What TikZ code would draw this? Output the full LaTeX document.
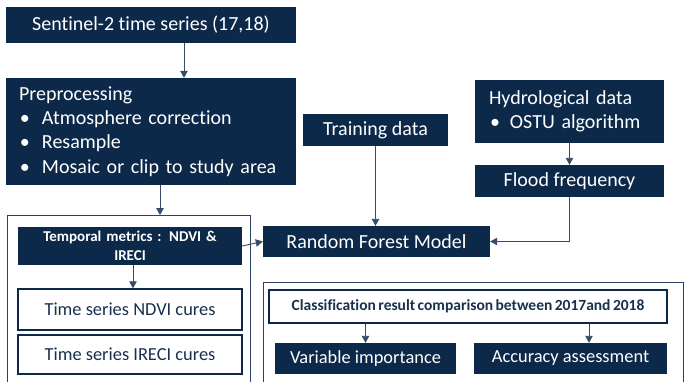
\documentclass[tikz,border=0pt]{standalone}
\usepackage{fontspec}
\setmainfont{Carlito}[Ligatures=CommonOff,BoldFeatures={WordSpace=0.7}]
\usetikzlibrary{arrows.meta}
\definecolor{navy}{RGB}{13,41,74}
\definecolor{navytext}{RGB}{25,48,78}
\definecolor{linkc}{RGB}{52,76,106}
\definecolor{framec}{RGB}{45,66,96}
\newcommand\bigtxt{\fontsize{20}{24.4}\selectfont}
\newcommand\midtxt{\fontsize{18.4}{22.4}\selectfont}
\newcommand\smalltxt{\fontsize{15}{18.5}\selectfont\bfseries}
\newcommand\clstxt{\fontsize{15.5}{19}\selectfont\bfseries}
\newcommand\bul[1]{\makebox[#1][l]{\hspace{1pt}\textbullet}}
\tikzset{
  darkbox/.style={fill=navy,draw=none,text=white,inner sep=0pt},
  lightbox/.style={fill=white,draw=navy,line width=1.4pt,text=navytext,inner sep=0pt},
  frame/.style={draw=framec,line width=1.2pt,fill=none,inner sep=0pt},
  link/.style={draw=linkc,line width=0.9pt,-{Triangle[length=7pt,width=7.5pt]}},
}
\begin{document}
\begin{tikzpicture}[x=1pt,y=-1pt]
\useasboundingbox (0,0) rectangle (684,382);
\fill[white] (0,0) rectangle (684,382);
\clip (0,0) rectangle (684,382);

% enclosing frames (open towards the bottom edge)
\node[frame,anchor=north west,minimum width=243pt,minimum height=190pt] (lframe) at (7,215) {};
\node[frame,anchor=north west,minimum width=420pt,minimum height=130pt] (rframe) at (263,282) {};

% input and preprocessing
\node[darkbox,minimum width=290pt,minimum height=36pt,font=\bigtxt] (s2) at (151,25) {Sentinel-2 time series (17,18)};
\node[darkbox,minimum width=290pt,minimum height=107pt,text width=264pt,align=left,font=\bigtxt] (pre) at (151,131.5)
  {Preprocessing\\ \bul{23pt}Atmosphere correction\\ \bul{23pt}Resample\\ \bul{23pt}Mosaic or clip to study area};

% model inputs
\node[darkbox,minimum width=145pt,minimum height=32pt,font=\bigtxt] (td) at (375.5,130) {Training data};
\node[darkbox,minimum width=189pt,minimum height=63pt,text width=161pt,align=left,font=\bigtxt] (hy) at (569.5,111.5)
  {Hydrological data\\ \bul{21pt}OSTU algorithm};
\node[darkbox,minimum width=189pt,minimum height=32pt,font=\bigtxt] (ff) at (569.5,181) {Flood frequency};
\node[darkbox,minimum width=227pt,minimum height=31pt,font=\bigtxt] (rf) at (376.5,241.5) {Random Forest Model};

% temporal metrics
\node[darkbox,minimum width=224pt,minimum height=38pt,text width=200pt,align=center,font=\smalltxt] (tm) at (130,246)
  {Temporal metrics : NDVI \&\\ IRECI};
\node[lightbox,minimum width=224pt,minimum height=41pt,font=\midtxt] (ndvi) at (130,309.5) {Time series NDVI cures};
\node[lightbox,minimum width=224pt,minimum height=39pt,font=\midtxt] (ireci) at (130,354.5) {Time series IRECI cures};

% results
\node[lightbox,minimum width=398pt,minimum height=33pt,font=\clstxt] (cls) at (468,306.5) {Classification result comparison between 2017and 2018};
\node[darkbox,minimum width=181pt,minimum height=31pt,font=\midtxt] (vi) at (365.5,358.5) {Variable importance};
\node[darkbox,minimum width=193pt,minimum height=31pt,font=\midtxt] (aa) at (570.5,358.5) {Accuracy assessment};

% connectors
\draw[link] ([xshift=33pt]s2.south) -- ([xshift=33pt]pre.north);
\draw[link] ([xshift=9pt]pre.south) -- ([xshift=9pt]pre.south |- lframe.north);
\draw[link] (td.south) -- (td.south |- rf.north);
\draw[link] (hy.south) -- (ff.north);
\draw[link] (ff.south) |- (rf.east);
\draw[link] (tm.east) -- (rf.west);
\draw[link] ([xshift=3pt]tm.south) -- ([xshift=3pt]ndvi.north);
\draw[link] (vi.north |- cls.south) -- (vi.north);
\draw[link] ([xshift=18.5pt]aa.north |- cls.south) -- ([xshift=18.5pt]aa.north);
\end{tikzpicture}
\end{document}
